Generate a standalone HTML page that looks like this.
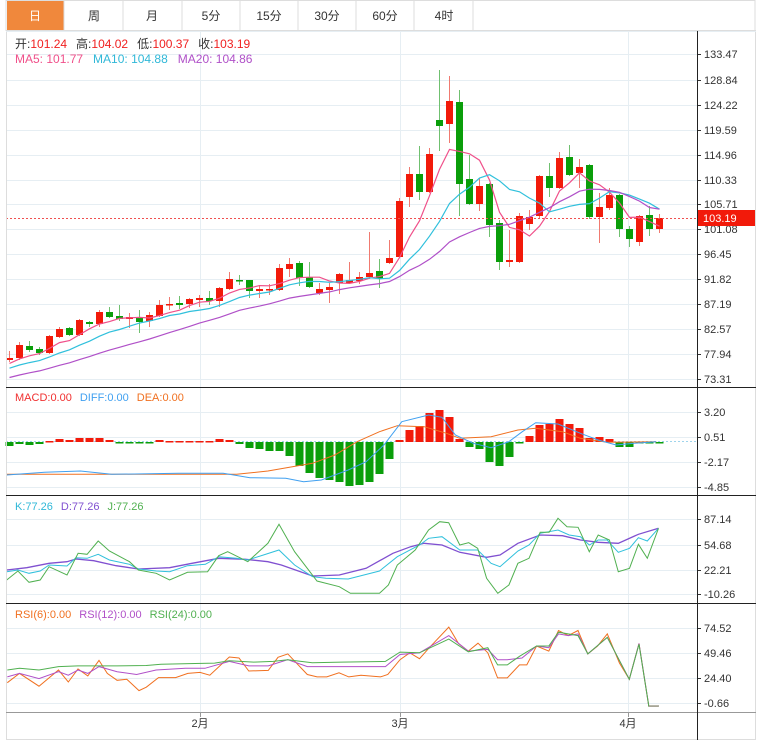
<!DOCTYPE html>
<html><head><meta charset="utf-8">
<style>
body{margin:0;background:#fff;width:765px;height:743px;overflow:hidden;font-family:"Liberation Sans","Noto Sans CJK SC",sans-serif;}
svg{position:absolute;left:0;top:0}
text{font-family:"Liberation Sans","Noto Sans CJK SC",sans-serif;}
</style></head><body>
<svg id="s" width="765" height="743" xmlns="http://www.w3.org/2000/svg">
<rect x="0" y="0" width="765" height="743" fill="#fff"/>
<g id="grid"></g>
<g id="plot"></g>
<!-- tabs -->
<rect x="6" y="0.5" width="749" height="30" fill="#fff" stroke="#ddd"/>
<rect x="7" y="1" width="57" height="29" fill="#f0883c"/>
<g stroke="#ddd"><line x1="64" y1="0" x2="64" y2="30"/><line x1="123" y1="0" x2="123" y2="30"/><line x1="182" y1="0" x2="182" y2="30"/><line x1="240" y1="0" x2="240" y2="30"/><line x1="298" y1="0" x2="298" y2="30"/><line x1="356" y1="0" x2="356" y2="30"/><line x1="414" y1="0" x2="414" y2="30"/><line x1="473" y1="0" x2="473" y2="30"/></g>
<g font-size="12" fill="#333" text-anchor="middle">
<text x="35" y="20" fill="#fff">日</text><text x="94" y="20">周</text><text x="152" y="20">月</text><text x="211" y="20">5分</text><text x="269" y="20">15分</text><text x="327" y="20">30分</text><text x="385" y="20">60分</text><text x="444" y="20">4时</text>
</g>
<!-- legends -->
<g font-size="12">
<text x="15" y="48"><tspan fill="#333">开:</tspan><tspan fill="#f02020">101.24</tspan><tspan fill="#333" dx="9">高:</tspan><tspan fill="#f02020">104.02</tspan><tspan fill="#333" dx="9">低:</tspan><tspan fill="#f02020">100.37</tspan><tspan fill="#333" dx="9">收:</tspan><tspan fill="#f02020">103.19</tspan></text>
<text x="15" y="63"><tspan fill="#f0508a">MA5: 101.77</tspan><tspan fill="#30b8d8" dx="10">MA10: 104.88</tspan><tspan fill="#b050c8" dx="10">MA20: 104.86</tspan></text>
</g>
<g font-size="11">
<text x="15" y="401"><tspan fill="#f03030">MACD:0.00</tspan><tspan fill="#40a0f0" dx="8">DIFF:0.00</tspan><tspan fill="#f07020" dx="8">DEA:0.00</tspan></text>
<text x="15" y="510"><tspan fill="#30b8d8">K:77.26</tspan><tspan fill="#8050d0" dx="8">D:77.26</tspan><tspan fill="#50b050" dx="8">J:77.26</tspan></text>
<text x="15" y="618"><tspan fill="#f07020">RSI(6):0.00</tspan><tspan fill="#b050c8" dx="8">RSI(12):0.00</tspan><tspan fill="#50b050" dx="8">RSI(24):0.00</tspan></text>
</g>
<g id="axis" font-size="11" fill="#333"></g>
</svg>
<script>
var NS="http://www.w3.org/2000/svg";
function el(p,t,a){var e=document.createElementNS(NS,t);for(var k in a)e.setAttribute(k,a[k]);document.getElementById(p).appendChild(e);return e;}
var grid="grid",plot="plot";
var pl=[[54,"133.47"],[80,"128.84"],[105,"124.22"],[130,"119.59"],[155,"114.96"],[180,"110.33"],[204,"105.71"],[229,"101.08"],[254,"96.45"],[279,"91.82"],[304,"87.19"],[329,"82.57"],[354,"77.94"],[379,"73.31"],
[412,"3.20"],[437,"0.51"],[462,"-2.17"],[487,"-4.85"],[519,"87.14"],[545,"54.68"],[570,"22.21"],[594,"-10.26"],[628,"74.52"],[653,"49.46"],[678,"24.40"],[703,"-0.66"]];
pl.forEach(function(p){el(grid,"line",{x1:6,x2:697,y1:p[0]+.5,y2:p[0]+.5,stroke:"#e6eef3"});
 el("axis","line",{x1:697,x2:701,y1:p[0]+.5,y2:p[0]+.5,stroke:"#333"});
 var t=el("axis","text",{x:704,y:p[0]+4});t.textContent=p[1];});
[200,400,628].forEach(function(x){el(grid,"line",{x1:x+.5,x2:x+.5,y1:31,y2:713,stroke:"#e6eef3"});el("axis","line",{x1:x+.5,x2:x+.5,y1:713,y2:717,stroke:"#999"});});
var xl=[[200,"2月"],[400,"3月"],[628,"4月"]];
xl.forEach(function(p){var t=el("axis","text",{x:p[0],y:727,"text-anchor":"middle"});t.textContent=p[1];});
el("axis","line",{x1:6.5,x2:6.5,y1:31,y2:740,stroke:"#ddd"});
el("axis","line",{x1:755.5,x2:755.5,y1:30,y2:740,stroke:"#ddd"});
el("axis","line",{x1:6,x2:756,y1:739.5,y2:739.5,stroke:"#ddd"});
el("axis","line",{x1:6,x2:756,y1:31.5,y2:31.5,stroke:"#e6eef3"});
[387.5,495.5,603.5].forEach(function(y){el("axis","line",{x1:6,x2:756,y1:y,y2:y,stroke:"#222"});});
el("axis","line",{x1:6,x2:756,y1:712.5,y2:712.5,stroke:"#999"});
el("axis","line",{x1:697.5,x2:697.5,y1:31,y2:740,stroke:"#222"});
var C=[[358,360,351,362,'r'],[345,358,342,360,'r'],[346,350,341,352,'g'],[349,353,347,355,'g'],[336,353,335,354,'r'],[329,337,327,338,'r'],[328,335,327,336,'g'],[320,335,319,336,'r'],[322,324,321,327,'g'],[312,324,310,327,'r'],
[312,317,307,318,'g'],[316,319,305,321,'g'],[317,319,313,328,'r'],[318,322,310,333,'g'],[315,321,312,327,'r'],[305,316,300,317,'r'],[304,305,297,310,'r'],[303,305,296,309,'g'],[299,304,298,308,'r'],[298,300,295,307,'r'],
[298,301,291,305,'g'],[288,301,287,307,'r'],[279,289,272,290,'r'],[280,281,275,285,'g'],[280,291,280,298,'g'],[289,291,285,298,'r'],[289,290,284,295,'r'],[268,290,264,291,'r'],[264,269,258,277,'r'],[263,278,261,286,'g'],
[277,287,262,288,'g'],[289,293,283,295,'r'],[287,290,283,303,'r'],[274,283,273,294,'r'],[280,283,262,284,'r'],[277,281,272,284,'r'],[273,277,232,279,'r'],[271,279,259,288,'g'],[258,263,240,264,'r'],[201,257,198,258,'r'],
[174,197,167,207,'r'],[174,192,146,200,'g'],[154,192,148,193,'r'],[120,126,70,151,'g'],[101,124,76,143,'r'],[102,184,90,216,'g'],[179,204,155,205,'g'],[186,204,178,211,'r'],[184,225,183,237,'g'],[223,262,220,270,'g'],
[260,262,230,267,'r'],[216,262,213,263,'r'],[217,224,210,230,'r'],[176,216,175,218,'r'],[176,188,163,197,'g'],[158,188,152,189,'r'],[157,175,145,176,'g'],[167,173,159,188,'r'],[165,217,164,219,'g'],[207,217,193,243,'r'],
[195,208,188,210,'r'],[195,229,194,237,'g'],[229,239,226,247,'g'],[216,242,215,246,'r'],[215,229,206,236,'g'],[218,229,214,233,'r']];
var RED="#f21a0a",GRN="#0a9e0a";
function cx(i){return 9+10*i;}
C.forEach(function(c,i){var x=cx(i),col=c[4]=='r'?RED:GRN,wc=c[4]=='r'?"#f07a70":"#70c070";
 el(plot,"line",{x1:x+.5,x2:x+.5,y1:c[2],y2:c[3],stroke:wc});
 el(plot,"rect",{x:x-3,y:c[0],width:7,height:Math.max(1.5,c[1]-c[0]),fill:col});});
var cl=[];for(var k=0;k<19;k++)cl.push(395-(33*k/18));
C.forEach(function(c){cl.push(c[4]=='r'?c[0]:c[1]);});
function ma(n,col){var pts=[];for(var i=0;i<C.length;i++){var s=0;for(var j=0;j<n;j++)s+=cl[19+i-j];pts.push(cx(i)+.5+","+(s/n).toFixed(1));}
 el(plot,"polyline",{points:pts.join(" "),fill:"none",stroke:col,"stroke-width":1.2});}
ma(5,"#f0508a");ma(10,"#30c0dc");ma(20,"#b050c8");
el(plot,"line",{x1:6,x2:697,y1:218.5,y2:218.5,stroke:"#f05050","stroke-dasharray":"2,2"});
el("axis","rect",{x:698,y:210,width:57,height:16,fill:RED});
var t=el("axis","text",{x:703,y:222,fill:"#fff"});t.textContent="103.19";
el(plot,"line",{x1:6,x2:697,y1:441.5,y2:441.5,stroke:"#9fd4ec","stroke-dasharray":"2,2"});
var H=[446,444,445,444,441,439,440,438,438,438,440,442,443,443,442,440,441,441,441,441,441,439,440,444,448,449,451,451,456,466,473,478,480,482,486,485,482,474,459,440,430,426,413,410,417,439,447,449,462,466,457,443,436,425,424,419,424,428,438,437,439,447,447,442,443,442];
H.forEach(function(y,i){var x=cx(i);var up=y<442;var y0=Math.min(y,442),h=Math.max(1.5,Math.abs(y-442));
 el(plot,"rect",{x:x-3.5,y:y0,width:8,height:h,fill:up?RED:GRN});});
function zl(arr,sx,sy,oy,col,w){var pts=[];for(var i=0;i<arr.length;i+=2)pts.push((arr[i]/sx).toFixed(1)+","+(oy+arr[i+1]/sy).toFixed(1));
 el(plot,"polyline",{points:pts.join(" "),fill:"none",stroke:col,"stroke-width":w||1});}
zl([15,268,530,268,600,258,700,235,750,210,800,170,850,140,890,122,950,125,1000,145,1030,160,1100,155,1160,135,1200,130,1260,140,1300,160,1360,172,1470,170],2.24,3,385,"#f07020");
zl([15,270,100,262,180,258,250,268,400,265,500,265,560,278,640,280,680,290,720,285,780,255,820,230,860,180,900,110,960,90,990,97,1020,150,1060,175,1100,188,1140,170,1170,140,1200,113,1250,117,1300,145,1340,165,1380,180,1420,175,1470,170],2.24,3,385,"#40a0f0");
zl([15,225,60,218,110,205,150,200,170,192,210,197,260,212,310,222,380,218,430,205,490,190,550,193,600,200,630,210,700,243,760,240,820,220,880,175,920,155,950,145,990,150,1030,172,1090,187,1120,180,1160,145,1210,120,1260,122,1300,135,1340,142,1385,145,1430,118,1475,100],2.24,3,495,"#8050d0",1.3);
zl([15,230,40,225,65,235,90,228,110,210,150,213,170,188,195,190,220,178,245,195,290,208,310,222,350,228,380,230,420,212,460,208,490,185,530,190,555,195,590,180,625,165,660,210,700,245,730,250,780,252,850,228,890,185,940,150,960,130,990,125,1030,165,1070,165,1100,205,1120,215,1160,168,1185,150,1210,115,1250,105,1275,120,1300,125,1320,150,1340,135,1360,135,1385,172,1410,160,1430,128,1450,138,1475,100],2.24,3,495,"#30c0dc");
zl([15,255,40,228,65,262,90,255,110,215,150,240,175,175,195,178,220,138,245,168,290,200,310,225,350,235,380,255,420,232,465,230,490,182,510,170,555,200,600,145,625,88,660,170,710,258,760,275,785,295,850,295,870,270,890,210,930,165,960,105,985,80,1005,83,1030,150,1050,143,1070,160,1090,250,1115,295,1140,270,1160,205,1185,190,1210,112,1230,112,1250,70,1270,95,1295,97,1320,170,1340,120,1365,135,1385,230,1410,220,1430,148,1450,190,1475,100],2.24,3,495,"#50b050");
zl([15,232,40,205,80,242,120,195,140,230,160,192,180,212,203,167,220,205,240,225,260,222,285,255,300,245,325,217,360,217,385,205,410,202,430,210,470,157,490,160,510,198,550,196,570,158,590,148,630,208,650,215,670,215,695,203,715,215,740,210,780,215,795,208,820,165,840,145,860,162,880,130,920,70,940,118,960,140,980,117,1000,145,1020,218,1040,218,1065,180,1080,180,1100,125,1125,140,1145,80,1165,95,1185,80,1205,148,1225,125,1245,90,1270,175,1290,222,1310,118,1330,300,1350,300],2.05,2.91,603,"#f07020");
zl([15,215,40,205,80,220,120,200,140,210,160,195,180,205,203,185,240,200,280,208,320,195,380,190,420,190,470,170,510,183,550,183,590,165,630,185,700,185,790,185,820,150,860,145,920,95,960,140,1000,135,1020,165,1040,165,1070,160,1100,125,1125,130,1145,90,1165,95,1185,90,1205,148,1245,100,1290,222,1310,118,1330,300,1350,300],2.05,2.91,603,"#b050c8");
zl([15,195,40,190,80,195,120,185,160,183,240,183,300,182,330,178,400,176,440,175,470,168,520,172,560,170,590,165,640,174,700,172,790,170,820,143,860,145,920,105,960,142,1000,130,1020,180,1040,180,1065,155,1100,125,1125,125,1145,85,1185,95,1205,148,1245,100,1290,222,1310,120,1330,300,1350,300],2.05,2.91,603,"#50b050");
el(plot,"line",{x1:649,x2:659,y1:706,y2:706,stroke:"#a0a090","stroke-width":1.5});
</script>
</body></html>
